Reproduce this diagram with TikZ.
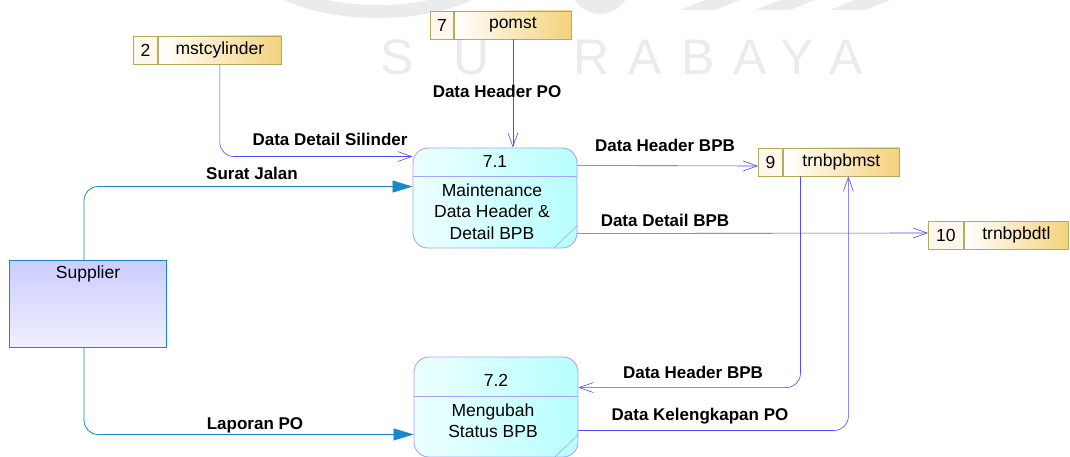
\documentclass[tikz,border=0pt]{standalone}
\usepackage{fontspec}
\setmainfont{Liberation Sans}
\usetikzlibrary{calc,positioning,arrows.meta,shapes}
\definecolor{flowblue}{HTML}{4A4AFF}
\definecolor{entline}{HTML}{1A86CC}
\definecolor{procline}{HTML}{A4A4FF}
\definecolor{storeline}{HTML}{B4AC5C}
\definecolor{storegold}{HTML}{F4D27C}
\definecolor{wmark}{HTML}{EBEBEB}
\tikzset{
	storeid/.style={
		rectangle,
		draw=storeline, line width=0.9pt,
		fill=white!85!storegold,
		minimum height=28pt,
		inner sep=0pt,
		font=\fontsize{17.5}{20}\selectfont},
	storename/.style={
		rectangle,
		draw=storeline, line width=0.9pt,
		left color=white, right color=storegold,
		minimum height=28pt,
		inner sep=0pt,
		font=\fontsize{17.5}{20}\selectfont},
	process/.style={
		rectangle,
		rounded corners=15pt,
		draw=procline, line width=0.9pt,
		left color=white!80!cyan!35, right color=cyan!28,
		minimum width=164pt,
		minimum height=100pt},
	ptext/.style={
		align=center, inner sep=0pt,
		font=\fontsize{17.5}{21.5}\selectfont},
	entity/.style={
		rectangle,
		draw=entline, line width=0.8pt,
		top color=blue!20!white, bottom color=blue!6!white,
		minimum width=157pt,
		minimum height=87pt},
	flow/.style={draw=flowblue, line width=0.6pt, rounded corners=14pt,
		-{Straight Barb[length=14pt,width=10pt]}},
	entflow/.style={draw=entline, line width=0.8pt, rounded corners=14pt,
		-{Triangle[length=20pt,width=12pt]}},
	flowlabel/.style={font=\fontsize{17}{20}\selectfont\bfseries, inner sep=1pt},
	wmletter/.style={text=wmark, font=\fontsize{50}{54}\selectfont, inner sep=0pt, anchor=base},
}

\begin{document}
\begin{tikzpicture}[x=1pt,y=-1pt]
	\useasboundingbox (0,0) rectangle (1070,457);
	% watermark
	\fill[wmark] (378,-40) ellipse (130 and 58);
	\fill[white] (378,-40) ellipse (110 and 45);
	\fill[wmark] (600,-30) ellipse (35 and 44);
	\foreach \wx in {680,755,830}
		\fill[wmark] (\wx,10) -- (\wx+25,0) -- (\wx+60,0) -- (\wx+35,10) -- cycle;
	\foreach \wl/\wx in {S/397,U/472,R/592,A/645,B/698,A/750,Y/797,A/846}
		\node[wmletter] at (\wx,75) {\wl};

	% data stores
	\node[storeid, minimum width=24pt, anchor=west] (s2id) at (133,50) {2};
	\node[storename, minimum width=123pt, right=0pt of s2id] (s2) {mstcylinder};
	\node[storeid, minimum width=23pt, anchor=west] (s7id) at (430,25) {7};
	\node[storename, minimum width=117pt, right=0pt of s7id] (s7) {pomst};
	\node[storeid, minimum width=24pt, anchor=west] (s9id) at (758,162) {9};
	\node[storename, minimum width=116pt, right=0pt of s9id] (s9) {trnbpbmst};
	\node[storeid, minimum width=35pt, anchor=west] (s10id) at (928,235) {10};
	\node[storename, minimum width=104pt, right=0pt of s10id] (s10) {trnbpbdtl};

	% processes
	\node[process] (p71) at (495,198) {};
	\draw[procline, line width=0.9pt] ($(p71.north west)+(0,29)$) -- ($(p71.north east)+(0,29)$);
	\draw[procline, line width=0.6pt] ($(p71.south east)+(-24,0)$) -- ($(p71.south east)+(0,-23)$);
	\node[ptext] (p71id) at ($(p71.north)+(0,14)$) {7.1};
	\node[ptext] (p71t) at ($(p71.north)+(-3,64)$) {Maintenance\\Data Header \&\\Detail BPB};

	\node[process] (p72) at (496,407) {};
	\draw[procline, line width=0.9pt] ($(p72.north west)+(0,40)$) -- ($(p72.north east)+(0,40)$);
	\draw[procline, line width=0.6pt] ($(p72.south east)+(-24,0)$) -- ($(p72.south east)+(0,-23)$);
	\node[ptext] (p72id) at ($(p72.north)+(0,24)$) {7.2};
	\node[ptext] (p72t) at ($(p72.north)+(-3,64)$) {Mengubah\\Status BPB};

	% external entity
	\node[entity] (sup) at (88,304) {};
	\node[ptext] (supt) at ($(sup.north)+(0,14)$) {Supplier};

	% flows
	\draw[flow] (s2.south) |- ($(p71.north west)+(0,9)$);
	\draw[flow] (s7.south) -- (s7.south |- p71.north);
	\draw[flow] ($(p71.north east)+(0,18)$) -- ($(s9id.west)+(0,4)$);
	\draw[flow] ($(p71.south east)+(0,-15)$) -- ($(s10id.west)+(0,-2)$);
	\draw[flow] ($(s9id.south)+(30,0)$) |- ($(p72.north east)+(0,31)$);
	\draw[flow] ($(p72.south east)+(0,-27)$) -| ($(s9.south)+(7,0)$);
	\draw[entflow] ($(sup.north)+(-4,0)$) |- ($(p71.north west)+(0,39)$);
	\draw[entflow] ($(sup.south)+(-4,0)$) |- ($(p72.south west)+(0,-23)$);

	% flow labels
	\node[flowlabel] (lhpo) at (497,91) {Data Header PO};
	\node[flowlabel] (ldds) at (330,139) {Data Detail Silinder};
	\node[flowlabel] (lsj) at (252,173) {Surat Jalan};
	\node[flowlabel] (lhbpb) at (665,145) {Data Header BPB};
	\node[flowlabel] (ldbpb) at (665,220) {Data Detail BPB};
	\node[flowlabel] (lhbpb2) at (693,372) {Data Header BPB};
	\node[flowlabel] (lkpo) at (700,416) {Data Kelengkapan PO};
	\node[flowlabel] (llpo) at (255,425) {Laporan PO};
\end{tikzpicture}
\end{document}
